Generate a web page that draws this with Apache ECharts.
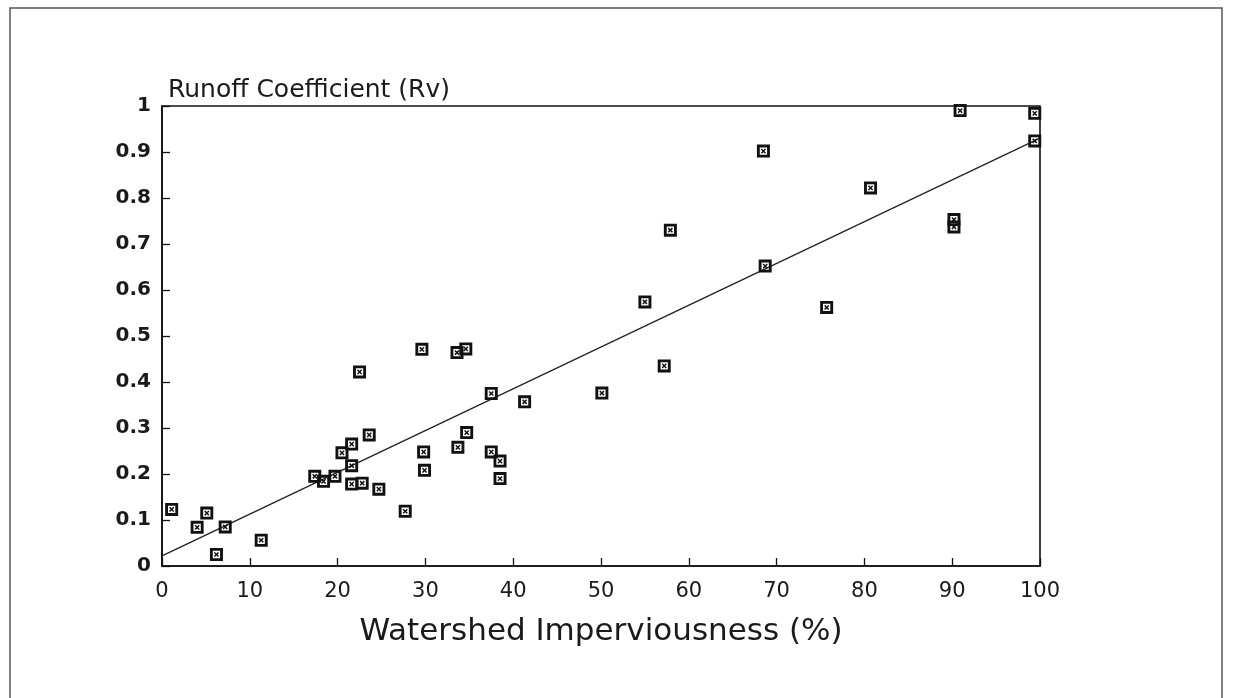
<!DOCTYPE html>
<html>
<head>
<meta charset="utf-8">
<script src="https://cdn.jsdelivr.net/npm/echarts@6/dist/echarts.min.js"></script>
<style>
html,body{margin:0;padding:0;background:#fff;}
#chart{width:1233px;height:698px;}
</style>
</head>
<body>
<div id="chart"></div>
<script>
// Watershed imperviousness (%) and runoff coefficient (Rv)
var imperviousness = [1.1, 4.0, 5.1, 6.2, 7.2, 11.3, 17.4, 18.4, 19.7, 20.5, 21.6, 21.6, 21.6, 22.8, 22.5, 23.6, 24.7, 27.7, 29.8, 29.9, 29.6, 33.6, 34.6, 33.7, 34.7, 37.5, 37.5, 38.5, 38.5, 41.3, 50.1, 57.2, 55.0, 57.9, 68.5, 68.7, 75.7, 80.7, 90.2, 90.2, 90.9, 99.4, 99.4];
var runoffCoef     = [0.123, 0.084, 0.115, 0.025, 0.085, 0.056, 0.195, 0.184, 0.195, 0.246, 0.265, 0.218, 0.178, 0.180, 0.422, 0.285, 0.167, 0.119, 0.248, 0.208, 0.471, 0.464, 0.472, 0.258, 0.290, 0.375, 0.248, 0.228, 0.190, 0.357, 0.376, 0.435, 0.574, 0.730, 0.902, 0.652, 0.562, 0.822, 0.753, 0.737, 0.990, 0.984, 0.924];
// regression line end points
var fitX = [0, 100];
var fitY = [0.022, 0.93];
var xTicks = [0, 10, 20, 30, 40, 50, 60, 70, 80, 90, 100];

var points = imperviousness.map(function (x, i) { return [x, runoffCoef[i]]; });
var fitLine = fitX.map(function (x, i) { return [x, fitY[i]]; });

var markerPath = 'path://M0 0 L100 0 L100 100 L0 100 Z M22 22 L22 78 L78 78 L78 22 Z ' +
  'M30 38 L38 30 L70 62 L62 70 Z M62 30 L70 38 L38 70 L30 62 Z';

var chart = echarts.init(document.getElementById('chart'), null, {renderer: 'canvas'});
var wide = '"DejaVu Sans", sans-serif';
chart.setOption({
  backgroundColor: '#fff',
  animation: false,
  title: {
    text: 'Runoff Coefficient (Rv)',
    left: 163, top: 73,
    textStyle: {fontFamily: wide, fontSize: 25, fontWeight: 'normal', color: '#1a1a1a'}
  },
  grid: {
    left: 162, right: 193, top: 106, bottom: 132,
    show: true, borderColor: '#111', borderWidth: 1.6, backgroundColor: 'transparent'
  },
  xAxis: {
    type: 'value', min: 0, max: 100, interval: 10,
    name: 'Watershed Imperviousness (%)', nameLocation: 'middle', nameGap: 50,
    nameTextStyle: {fontFamily: wide, fontSize: 31, color: '#1a1a1a'},
    axisLine: {show: true, lineStyle: {color: '#111', width: 1.6}},
    axisTick: {show: true, inside: true, length: 8, lineStyle: {color: '#111', width: 1.3}},
    axisLabel: {fontFamily: wide, fontSize: 21, color: '#1a1a1a', margin: 15,
      formatter: function (v) { return xTicks.indexOf(v) >= 0 ? String(v) : ''; }},
    splitLine: {show: false}
  },
  yAxis: {
    type: 'value', min: 0, max: 1, interval: 0.1,
    axisLine: {show: true, lineStyle: {color: '#111', width: 1.6}},
    axisTick: {show: true, inside: true, length: 8, lineStyle: {color: '#111', width: 1.3}},
    axisLabel: {fontFamily: wide, fontSize: 20, fontWeight: 'bold', color: '#1a1a1a', margin: 11,
      formatter: function (v) { return String(Math.round(v * 10) / 10); }},
    splitLine: {show: false}
  },
  series: [
    {
      type: 'line', data: fitLine, symbol: 'none', silent: true,
      lineStyle: {color: '#222', width: 1.3}, z: 2
    },
    {
      type: 'scatter', data: points, symbol: markerPath, symbolSize: 13,
      itemStyle: {color: '#111', opacity: 1}, z: 3
    }
  ],
  graphic: [
    {
      type: 'polyline', silent: true,
      shape: {points: [[10, 700], [10, 8], [1222, 8], [1222, 700]]},
      style: {stroke: '#555', lineWidth: 1.5, fill: null}
    }
  ]
});
</script>
</body>
</html>
